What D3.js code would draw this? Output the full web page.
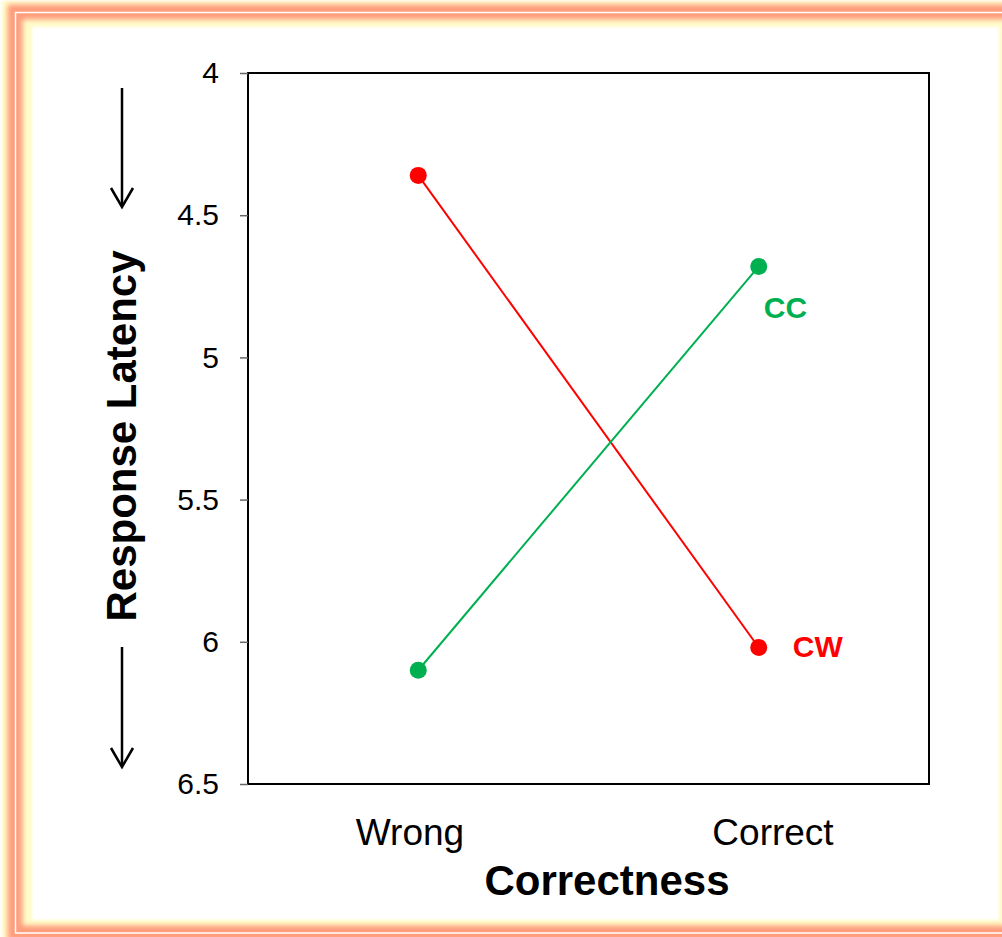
<!DOCTYPE html>
<html>
<head>
<meta charset="utf-8">
<script src="https://cdn.jsdelivr.net/npm/d3@7"></script>
<style>
  html, body { margin: 0; padding: 0; background: #ffffff; }
  svg { display: block; }
  text { font-family: "Liberation Sans", Arial, sans-serif; }
</style>
</head>
<body>
<svg id="chart" width="1002" height="937"></svg>
<script>
// ---- data ----
const categories = ["Wrong", "Correct"];
const seriesNames = ["CW", "CC"];
const cwValues = [4.36, 6.02];
const ccValues = [6.10, 4.68];
const yTicks = [4, 4.5, 5, 5.5, 6, 6.5];
const xTitle = "Correctness";
const yTitle = "Response Latency";

const series = [
  { name: seriesNames[0], values: cwValues, color: "#ff0000", labelDx: 34, labelDy: 10 },
  { name: seriesNames[1], values: ccValues, color: "#00b050", labelDx: 5, labelDy: 52 }
];

const svg = d3.select("#chart");

// ---- decorative frame ----
const defs = svg.append("defs");
defs.append("filter").attr("id", "blur1").attr("x", "-5%").attr("y", "-5%").attr("width", "110%").attr("height", "110%")
  .append("feGaussianBlur").attr("stdDeviation", 2.5);
defs.append("filter").attr("id", "blur2").attr("x", "-5%").attr("y", "-5%").attr("width", "110%").attr("height", "110%")
  .append("feGaussianBlur").attr("stdDeviation", 1.5);

svg.append("rect").attr("x", 0).attr("y", 0).attr("width", 1002).attr("height", 937).attr("fill", "#ffffff");
svg.append("rect").attr("x", 2).attr("y", 1).attr("width", 1040).attr("height", 960)
  .attr("fill", "#fffcc8").attr("filter", "url(#blur2)");
svg.append("rect").attr("x", 15).attr("y", 12).attr("width", 1010).attr("height", 921)
  .attr("fill", "none").attr("stroke", "#ff9c7c").attr("stroke-width", 15).attr("filter", "url(#blur1)");
svg.append("rect").attr("x", 15.5).attr("y", 12.5).attr("width", 1010).attr("height", 920.5)
  .attr("fill", "none").attr("stroke", "#ffffff").attr("stroke-width", 1.5);
svg.append("rect").attr("x", 32).attr("y", 27).attr("width", 967).attr("height", 893)
  .attr("fill", "#ffffff").attr("filter", "url(#blur2)");
svg.append("rect").attr("x", 34).attr("y", 29).attr("width", 963).attr("height", 889)
  .attr("fill", "#ffffff");

// ---- plot area ----
const plot = { left: 248, right: 929, top: 73, bottom: 784 };

const x = d3.scalePoint().domain(categories).range([plot.left, plot.right]).padding(0.5);
const xLabel = d3.scalePoint().domain(categories).range([410, 773]);
const y = d3.scaleLinear().domain([4, 6.5]).range([plot.top, plot.bottom]);

// frame box
svg.append("rect")
  .attr("x", plot.left).attr("y", plot.top)
  .attr("width", plot.right - plot.left).attr("height", plot.bottom - plot.top)
  .attr("fill", "none").attr("stroke", "#000").attr("stroke-width", 2);

// y axis
const yAxis = d3.axisLeft(y).tickValues(yTicks).tickFormat(d => String(d)).tickSize(8).tickPadding(21);
const yg = svg.append("g").attr("transform", `translate(${plot.left},0)`).call(yAxis);
yg.select(".domain").remove();
yg.selectAll(".tick line").attr("stroke", "#666").attr("stroke-width", 1.5);
yg.selectAll(".tick text").attr("font-size", 30).attr("fill", "#000")
  .attr("font-family", "'Liberation Sans', Arial, sans-serif");

// x labels
svg.append("g").selectAll("text").data(categories).join("text")
  .attr("x", d => xLabel(d)).attr("y", 845)
  .attr("text-anchor", "middle").attr("font-size", 37).attr("fill", "#000")
  .text(d => d);

// titles
svg.append("text").attr("x", 607).attr("y", 895).attr("text-anchor", "middle")
  .attr("font-size", 42).attr("font-weight", "bold").attr("fill", "#000").text(xTitle);
svg.append("text").attr("transform", "translate(136,436) rotate(-90)").attr("text-anchor", "middle")
  .attr("font-size", 42).attr("font-weight", "bold").attr("fill", "#000").text(yTitle);

// arrows
const arrows = [[88, 207], [647, 767]];
arrows.forEach(([y0, y1]) => {
  svg.append("line").attr("x1", 122).attr("x2", 122).attr("y1", y0).attr("y2", y1 - 1)
    .attr("stroke", "#000").attr("stroke-width", 2.5);
  svg.append("path").attr("d", `M111,${y1 - 19} L122,${y1} L133,${y1 - 19}`)
    .attr("fill", "none").attr("stroke", "#000").attr("stroke-width", 2.5);
});

// series
const line = d3.line().x((d, i) => x(categories[i])).y(d => y(d));
series.forEach(s => {
  svg.append("path").attr("d", line(s.values)).attr("fill", "none")
    .attr("stroke", s.color).attr("stroke-width", 2);
  svg.append("g").selectAll("circle").data(s.values).join("circle")
    .attr("cx", (d, i) => x(categories[i])).attr("cy", d => y(d)).attr("r", 8.5)
    .attr("fill", s.color);
  const last = s.values.length - 1;
  svg.append("text")
    .attr("x", x(categories[last]) + s.labelDx)
    .attr("y", y(s.values[last]) + s.labelDy)
    .attr("font-size", 30).attr("font-weight", "bold").attr("fill", s.color)
    .text(s.name);
});
</script>
</body>
</html>
